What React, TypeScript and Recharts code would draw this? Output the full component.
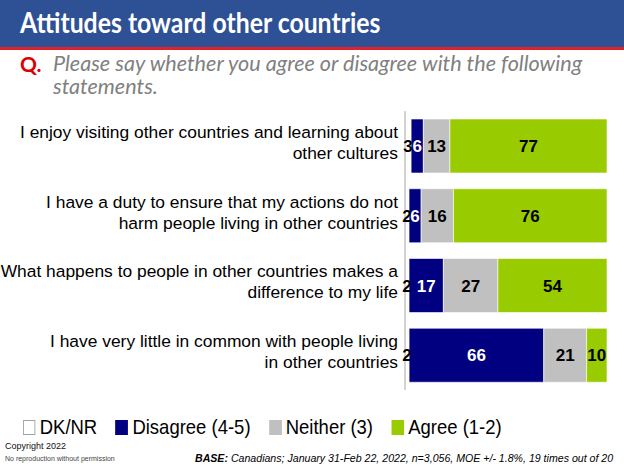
import React from "react";
import { BarChart, Bar, XAxis, YAxis, LabelList } from "recharts";

// statements (two lines each, as on the slide)
const statements = [
  ["I enjoy visiting other countries and learning about", "other cultures"],
  ["I have a duty to ensure that my actions do not", "harm people living in other countries"],
  ["What happens to people in other countries makes a", "difference to my life"],
  ["I have very little in common with people living", "in other countries"],
];

const dknr = [3, 2, 2, 2];
const disagree = [6, 6, 17, 66];
const neither = [13, 16, 27, 21];
const agree = [77, 76, 54, 10];

const series = [
  { key: "dk", name: "DK/NR", color: "#ffffff", text: "#000" },
  { key: "dis", name: "Disagree (4-5)", color: "#000080", text: "#fff" },
  { key: "nei", name: "Neither (3)", color: "#c0c0c0", text: "#000" },
  { key: "agr", name: "Agree (1-2)", color: "#99cc00", text: "#000" },
];

const data = statements.map((s, i) => ({
  id: String(i),
  dk: dknr[i],
  dis: disagree[i],
  nei: neither[i],
  agr: agree[i],
}));

const FONT = "'Liberation Sans', Arial, sans-serif";
const TITLE_FONT = "Lato, 'Open Sans', sans-serif";

const StatementTick = (props: any) => {
  const { x, y, payload } = props;
  const lines = statements[Number(payload.value)];
  return (
    <g>
      {lines.map((t, i) => (
        <text
          key={i}
          x={x + 1}
          y={y - 14 + i * 21}
          textAnchor="end"
          dominantBaseline="central"
          fontFamily={FONT}
          fontSize={17.4}
          fill="#000"
        >
          {t}
        </text>
      ))}
    </g>
  );
};

export default function App() {
  return (
    <div
      style={{
        position: "absolute",
        left: 0,
        top: 0,
        width: 624,
        height: 468,
        background: "#fff",
        overflow: "hidden",
        fontFamily: FONT,
      }}
    >
      {/* header */}
      <div
        style={{
          position: "absolute",
          left: 0,
          top: 0,
          width: 624,
          height: 47,
          background: "#2e5195",
          borderBottom: "3px solid #e0202a",
        }}
      />
      <div
        style={{
          position: "absolute",
          left: 20,
          top: 4,
          color: "#fff",
          fontFamily: TITLE_FONT,
          fontWeight: 700,
          fontSize: 28,
          lineHeight: "36px",
          whiteSpace: "nowrap",
          transform: "scaleX(0.886)",
          transformOrigin: "left center",
        }}
      >
        Attitudes toward other countries
      </div>
      <div
        style={{
          position: "absolute",
          left: 20,
          top: 52,
          color: "#dd0000",
          fontFamily: TITLE_FONT,
          fontWeight: 700,
          fontSize: 21,
          lineHeight: "23px",
        }}
      >
        Q.
      </div>
      <div
        style={{
          position: "absolute",
          left: 53,
          top: 52,
          width: 545,
          color: "#808080",
          fontFamily: TITLE_FONT,
          fontStyle: "italic",
          fontSize: 21.6,
          lineHeight: "23px",
        }}
      >
        Please say whether you agree or disagree with the following statements.
      </div>

      {/* chart */}
      <div style={{ position: "absolute", left: 0, top: 111 }}>
        <BarChart
          width={624}
          height={279}
          data={data}
          layout="vertical"
          stackOffset="expand"
          margin={{ top: 0, right: 17, bottom: 0, left: 0 }}
          barSize={54}
        >
          <XAxis type="number" hide domain={[0, 1]} />
          <YAxis
            type="category"
            dataKey="id"
            width={405}
            tickLine={false}
            axisLine={{ stroke: "#a6a6a6" }}
            tick={<StatementTick />}
            interval={0}
          />
          {series.map((s) => (
            <Bar
              key={s.key}
              dataKey={s.key}
              stackId="a"
              fill={s.color}
              stroke="#ffffff"
              strokeWidth={0.6}
              isAnimationActive={false}
            >
              <LabelList
                dataKey={s.key}
                position="center"
                fill={s.text}
                fontFamily={FONT}
                fontWeight={700}
                fontSize={17}
              />
            </Bar>
          ))}
        </BarChart>
      </div>

      {/* legend */}
      <div
        style={{
          position: "absolute",
          left: 23,
          top: 413,
          display: "flex",
          gap: 21,
          fontSize: 21,
          lineHeight: "28px",
          color: "#000",
          whiteSpace: "nowrap",
          transform: "scaleX(0.88)",
          transformOrigin: "left center",
        }}
      >
        {series.map((s) => (
          <div key={s.key} style={{ display: "flex", alignItems: "center" }}>
            <span
              style={{
                display: "inline-block",
                width: 12,
                height: 13,
                background: s.color,
                border: s.key === "dk" ? "1px solid #a0a0a0" : "1px solid " + s.color,
                marginRight: 5,
              }}
            />
            {s.name}
          </div>
        ))}
      </div>

      {/* footer */}
      <div style={{ position: "absolute", left: 5, top: 441, fontSize: 9, color: "#111" }}>
        Copyright 2022
      </div>
      <div style={{ position: "absolute", left: 5, top: 455, fontSize: 7, color: "#444" }}>
        No reproduction without permission
      </div>
      <div
        style={{
          position: "absolute",
          left: 195,
          top: 452,
          fontSize: 10.6,
          fontStyle: "italic",
          color: "#000",
          whiteSpace: "nowrap",
        }}
      >
        <b>BASE:</b> Canadians; January 31-Feb 22, 2022, n=3,056, MOE +/- 1.8%, 19 times out of 20
      </div>
    </div>
  );
}
